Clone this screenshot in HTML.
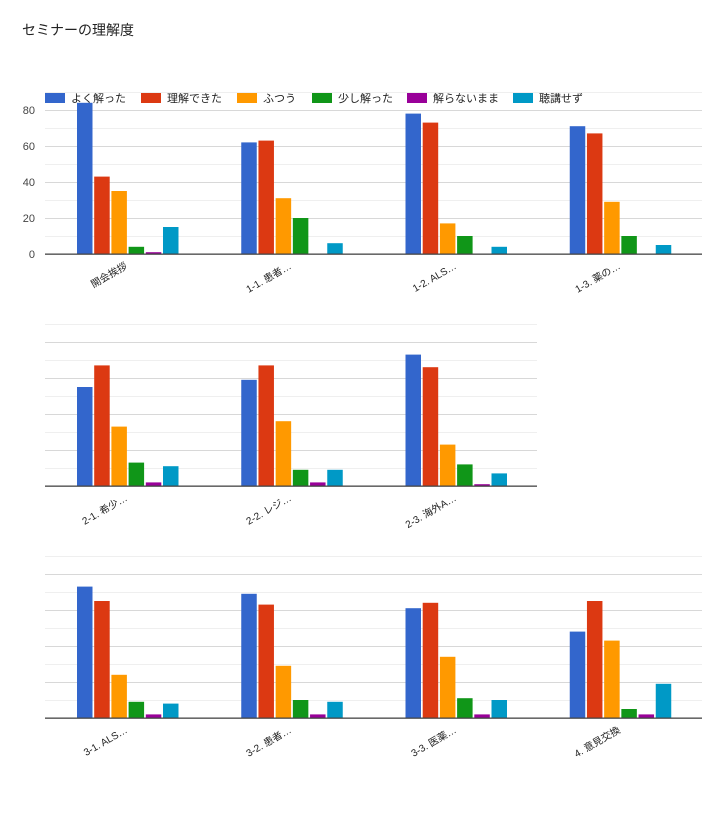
<!DOCTYPE html>
<html><head><meta charset="utf-8"><style>
body{margin:0;background:#fff;}
svg text{font-family:"Liberation Sans","Noto Sans CJK JP",sans-serif;}
</style></head><body>
<svg id="s" width="720" height="811" xmlns="http://www.w3.org/2000/svg">
<rect width="720" height="811" fill="#fff"/>
<text x="22" y="35" font-size="14" fill="#222">セミナーの理解度</text>
<g font-size="11" fill="#222">
<rect x="45" y="92" width="20" height="11" fill="#3366cc"/><text x="71" y="102">よく解った</text>
<rect x="141" y="92" width="20" height="11" fill="#dc3912"/><text x="167" y="102">理解できた</text>
<rect x="237" y="92" width="20" height="11" fill="#ff9900"/><text x="263" y="102">ふつう</text>
<rect x="312" y="92" width="20" height="11" fill="#109618"/><text x="338" y="102">少し解った</text>
<rect x="407" y="92" width="20" height="11" fill="#990099"/><text x="433" y="102">解らないまま</text>
<rect x="513" y="92" width="20" height="11" fill="#0099c6"/><text x="539" y="102">聴講せず</text>
</g>
<g font-size="11" fill="#444" text-anchor="end">
<text x="35" y="114">80</text><text x="35" y="150">60</text><text x="35" y="186">40</text><text x="35" y="222">20</text><text x="35" y="258">0</text>
</g>
<g id="bars"></g>
<g font-size="10" fill="#222" text-anchor="end">
<text transform="translate(128,268) rotate(-30)">開会挨拶</text>
<text transform="translate(292,268) rotate(-30)">1-1. 患者…</text>
<text transform="translate(457,268) rotate(-30)">1-2. ALS…</text>
<text transform="translate(621,268) rotate(-30)">1-3. 薬の…</text>
<text transform="translate(128,500) rotate(-30)">2-1. 希少…</text>
<text transform="translate(292,500) rotate(-30)">2-2. レジ…</text>
<text transform="translate(457,500) rotate(-30)">2-3. 海外A…</text>
<text transform="translate(128,732) rotate(-30)">3-1. ALS…</text>
<text transform="translate(292,732) rotate(-30)">3-2. 患者…</text>
<text transform="translate(457,732) rotate(-30)">3-3. 医薬…</text>
<text transform="translate(621,732) rotate(-30)">4. 意見交換</text>
</g>
</svg>
<script>
var g=document.getElementById('bars'),ns='http://www.w3.org/2000/svg';
var cols=['#3366cc','#dc3912','#ff9900','#109618','#990099','#0099c6'];
function r(x,y,w,h,f){var e=document.createElementNS(ns,'rect');e.setAttribute('x',x);e.setAttribute('y',y);e.setAttribute('width',w);e.setAttribute('height',h);e.setAttribute('fill',f);g.appendChild(e);}
var charts=[[254,702,[[84,43,35,4,1,15],[62,63,31,20,0,6],[78,73,17,10,0,4],[71,67,29,10,0,5]]],
[486,537,[[55,67,33,13,2,11],[59,67,36,9,2,9],[73,66,23,12,1,7]]],
[718,702,[[73,65,24,9,2,8],[69,63,29,10,2,9],[61,64,34,11,2,10],[48,65,43,5,2,19]]]];
charts.forEach(function(c){var b=c[0],x2=c[1];
for(var k=1;k<=9;k++){r(45,b-k*18,x2-45,1,k%2==0?'#d8d8d8':'#efefef');}
c[2].forEach(function(vals,gi){vals.forEach(function(v,i){if(v>0)r(45+gi*164.25+32+i*17.2,b-v*1.8,15.5,v*1.8,cols[i]);});});
r(45,b-0.5,x2-45,1.3,'#444');});
</script>
</body></html>
